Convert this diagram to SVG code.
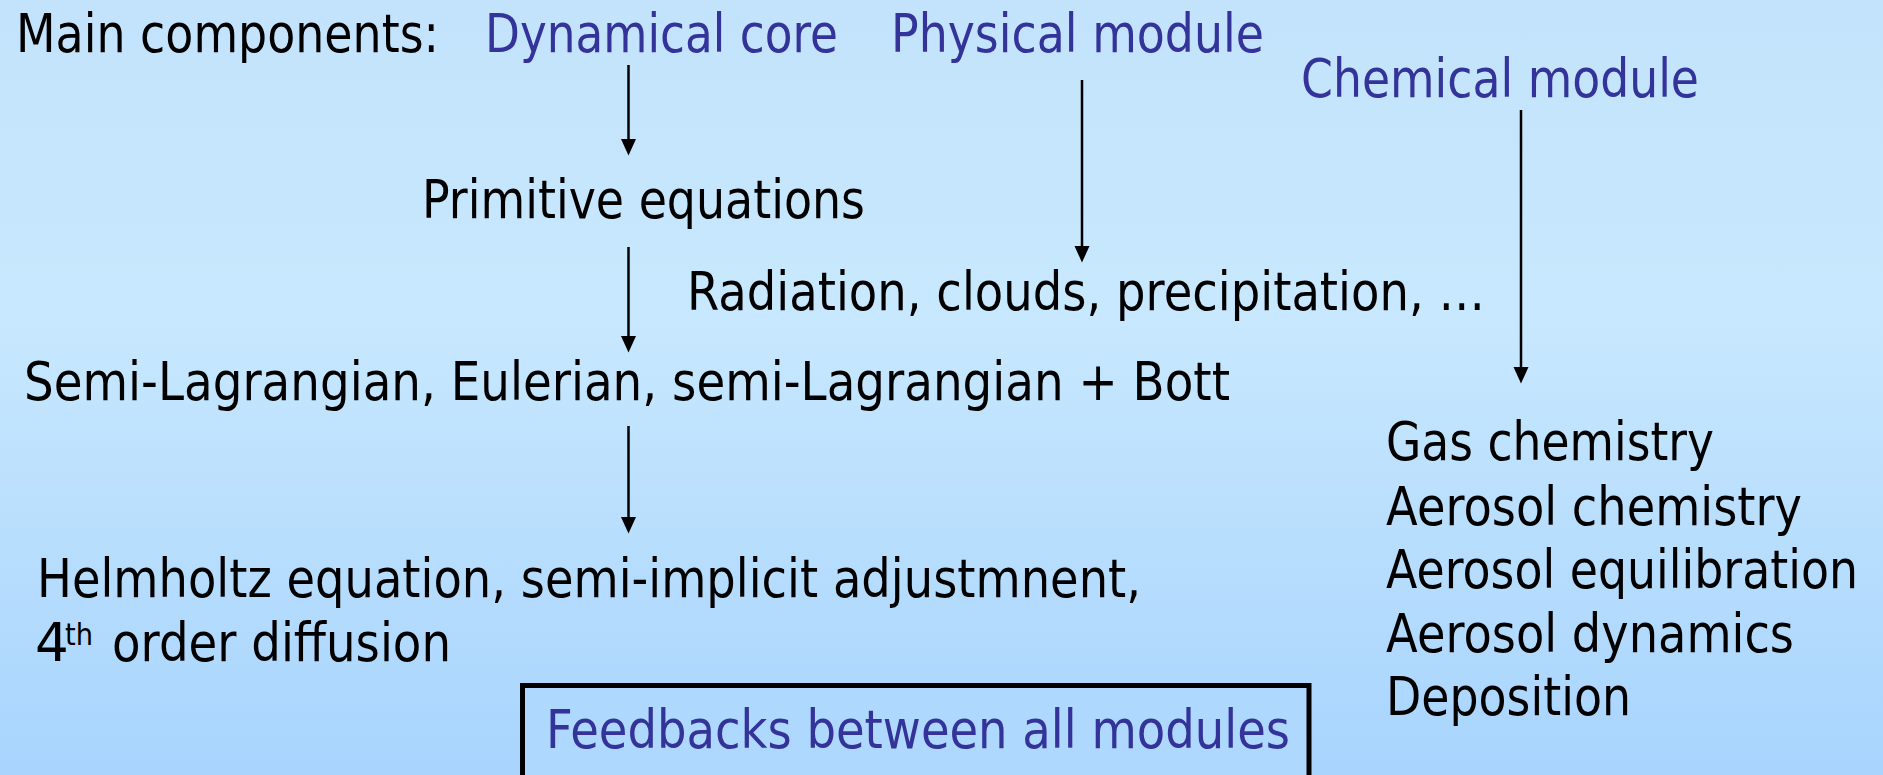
<svg xmlns="http://www.w3.org/2000/svg" width="1883" height="775" viewBox="0 0 1883 775">
  <defs>
    <linearGradient id="bg" x1="0" y1="0" x2="0" y2="1">
      <stop offset="0" stop-color="#c3e3fc"/>
      <stop offset="0.4" stop-color="#c8e8fe"/>
      <stop offset="1" stop-color="#a8d4fd"/>
    </linearGradient>
    <marker id="arrow" markerUnits="userSpaceOnUse" markerWidth="17" markerHeight="16" refX="8" refY="7.5" orient="auto" viewBox="0 0 17 16">
      <path d="M0,0 L16.5,7.5 L0,15 z" fill="#000"/>
    </marker>
  </defs>
  <style>
    text { font-family: "DejaVu Sans", "Liberation Sans", sans-serif; font-size: 53px; }
    .k { fill: #000000; }
    .b { fill: #333399; }
    .sup { font-size: 31px; }
    .conn line { stroke: #000; stroke-width: 2.5; marker-end: url(#arrow); }
  </style>
  <rect x="0" y="0" width="1883" height="775" fill="url(#bg)"/>

  <g id="header">
    <text class="k" x="16" y="52" textLength="423" lengthAdjust="spacingAndGlyphs">Main components:</text>
  </g>
  <g id="dynamical-core">
    <text class="b" x="485" y="52" textLength="353" lengthAdjust="spacingAndGlyphs">Dynamical core</text>
  </g>
  <g id="physical-module">
    <text class="b" x="891" y="52" textLength="373" lengthAdjust="spacingAndGlyphs">Physical module</text>
  </g>
  <g id="chemical-module">
    <text class="b" x="1301" y="97" textLength="398" lengthAdjust="spacingAndGlyphs">Chemical module</text>
  </g>
  <g id="primitive-equations">
    <text class="k" x="422" y="218" textLength="443" lengthAdjust="spacingAndGlyphs">Primitive equations</text>
  </g>
  <g id="physics">
    <text class="k" x="687" y="310" textLength="798" lengthAdjust="spacingAndGlyphs">Radiation, clouds, precipitation, …</text>
  </g>
  <g id="advection">
    <text class="k" x="24" y="400" textLength="1206" lengthAdjust="spacingAndGlyphs">Semi-Lagrangian, Eulerian, semi-Lagrangian + Bott</text>
  </g>
  <g id="helmholtz">
    <text class="k" x="37" y="597" textLength="1104" lengthAdjust="spacingAndGlyphs">Helmholtz equation, semi-implicit adjustmnent,</text>
    <text class="k" x="35" y="661">4</text>
    <text class="k sup" x="65" y="645" textLength="28" lengthAdjust="spacingAndGlyphs">th</text>
    <text class="k" x="112" y="661" textLength="339" lengthAdjust="spacingAndGlyphs">order diffusion</text>
  </g>
  <g id="chemistry-list">
    <text class="k" x="1386" y="460" textLength="328" lengthAdjust="spacingAndGlyphs">Gas chemistry</text>
    <text class="k" x="1386" y="525" textLength="416" lengthAdjust="spacingAndGlyphs">Aerosol chemistry</text>
    <text class="k" x="1386" y="588" textLength="472" lengthAdjust="spacingAndGlyphs">Aerosol equilibration</text>
    <text class="k" x="1386" y="652" textLength="408" lengthAdjust="spacingAndGlyphs">Aerosol dynamics</text>
    <text class="k" x="1386" y="715" textLength="245" lengthAdjust="spacingAndGlyphs">Deposition</text>
  </g>
  <g id="feedbacks">
    <rect x="522.5" y="685.5" width="786.5" height="110" fill="#aed8fd" stroke="#000" stroke-width="5"/>
    <text class="b" x="546" y="748" textLength="744" lengthAdjust="spacingAndGlyphs">Feedbacks between all modules</text>
  </g>

  <g id="connectors" class="conn">
    <line x1="628.5" y1="65" x2="628.5" y2="147"/>
    <line x1="628.5" y1="247" x2="628.5" y2="344"/>
    <line x1="628.5" y1="426" x2="628.5" y2="525"/>
    <line x1="1082" y1="80" x2="1082" y2="254"/>
    <line x1="1521" y1="110" x2="1521" y2="375"/>
  </g>
</svg>
